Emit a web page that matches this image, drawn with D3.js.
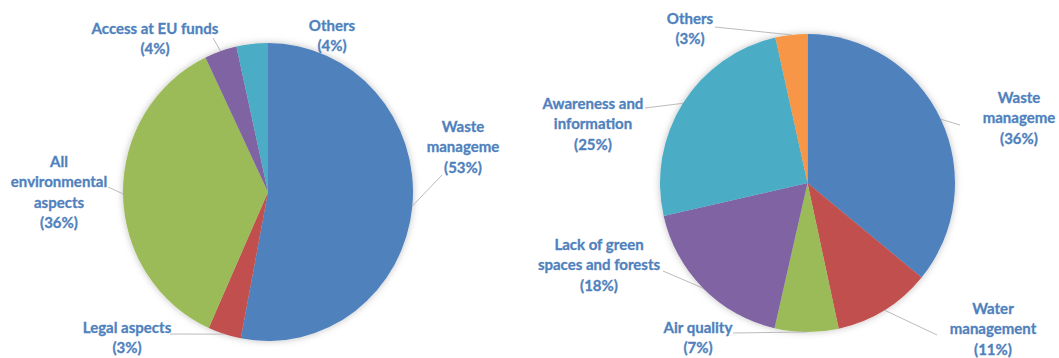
<!DOCTYPE html>
<html><head><meta charset="utf-8">
<script src="https://cdn.jsdelivr.net/npm/d3@7"></script>
<style>
body{margin:0;background:#fff;overflow:hidden;}
svg{display:block;}
text{font-family:Lato,"Open Sans",sans-serif;font-weight:bold;font-size:15px;fill:#4F81BD;stroke:#4F81BD;stroke-width:0.3px;}
</style>
</head><body><svg width="1059" height="358"></svg>
<script>
// ---- data ----
const leftCategories = ["Waste manageme", "Legal aspects", "All environmental aspects", "Access at EU funds", "Others"];
const leftValues = [53, 3.7, 36.2, 3.6, 3.5];
const leftPercentLabels = ["53%", "3%", "36%", "4%", "4%"];

const rightCategories = ["Waste manageme", "Water management", "Air quality", "Lack of green spaces and forests", "Awareness and information", "Others"];
const rightValues = [36, 10.7, 7, 17.9, 25.1, 3.5];
const rightPercentLabels = ["36%", "11%", "7%", "18%", "25%", "3%"];

const leftColors = ["#4F81BD", "#C0504D", "#9BBB59", "#8064A2", "#4BACC6"];
const rightColors = ["#4F81BD", "#C0504D", "#9BBB59", "#8064A2", "#4BACC6", "#F79646"];

// ---- layout (label text wrapping and placement) ----
const leftLayout = {
  cx: 268, cy: 192, rx: 145, ry: 149,
  labels: [
    {lines: ["Waste", "manageme"], x: 463, y: 126, lead: [442, 175]},
    {lines: ["Legal aspects"], x: 127, y: 327, lead: [170, 334]},
    {lines: ["All", "environmental", "aspects"], x: 59, y: 161, lead: [108, 187]},
    {lines: ["Access at EU funds"], x: 155, y: 28, lead: [213, 38]},
    {lines: ["Others"], x: 332, y: 25, lead: null}
  ]
};
const rightLayout = {
  cx: 807.5, cy: 183, rx: 147.5, ry: 149,
  labels: [
    {lines: ["Waste", "manageme"], x: 1019, y: 97, lead: [960, 125]},
    {lines: ["Water", "management"], x: 993, y: 308, lead: [937, 335]},
    {lines: ["Air quality"], x: 698, y: 327, lead: [733, 333]},
    {lines: ["Lack of green", "spaces and forests"], x: 599, y: 244, lead: [663, 271]},
    {lines: ["Awareness and", "information"], x: 593, y: 103, lead: [645, 108]},
    {lines: ["Others"], x: 690, y: 18, lead: [715, 27]}
  ]
};

const svg = d3.select("svg");
const defs = svg.append("defs");
const f = defs.append("filter").attr("id", "sh").attr("x", "-10%").attr("y", "-10%").attr("width", "120%").attr("height", "120%");
f.append("feDropShadow").attr("dx", 0).attr("dy", 0).attr("stdDeviation", 2.5)
  .attr("flood-color", "#000").attr("flood-opacity", 0.25);

function drawPie(values, cats, pcts, colors, layout) {
  const R = 100;
  const pie = d3.pie().sort(null).value(d => d);
  const arcs = pie(values);
  const arc = d3.arc().innerRadius(0).outerRadius(R);
  const g = svg.append("g")
    .attr("transform", `translate(${layout.cx},${layout.cy}) scale(${layout.rx / R},${layout.ry / R})`)
    .attr("filter", "url(#sh)");
  g.selectAll("path").data(arcs).join("path")
    .attr("d", arc)
    .attr("fill", (d, i) => colors[i]);

  // leader lines
  const lg = svg.append("g");
  arcs.forEach((a, i) => {
    const L = layout.labels[i];
    if (!L.lead) return;
    const mid = (a.startAngle + a.endAngle) / 2;
    const px = layout.cx + layout.rx * Math.sin(mid);
    const py = layout.cy - layout.ry * Math.cos(mid);
    lg.append("line")
      .attr("x1", L.lead[0]).attr("y1", L.lead[1])
      .attr("x2", px).attr("y2", py)
      .attr("stroke", "#b3b3b3").attr("stroke-width", 0.9);
  });

  // labels
  const tg = svg.append("g");
  arcs.forEach((a, i) => {
    const L = layout.labels[i];
    const lines = L.lines.concat(["(" + pcts[i] + ")"]);
    const t = tg.append("text")
      .attr("text-anchor", "middle")
      .attr("dominant-baseline", "central");
    lines.forEach((ln, k) => {
      t.append("tspan").attr("x", L.x).attr("y", L.y + k * 20.3).text(ln);
    });
  });
}

drawPie(leftValues, leftCategories, leftPercentLabels, leftColors, leftLayout);
drawPie(rightValues, rightCategories, rightPercentLabels, rightColors, rightLayout);
</script>
</body></html>
